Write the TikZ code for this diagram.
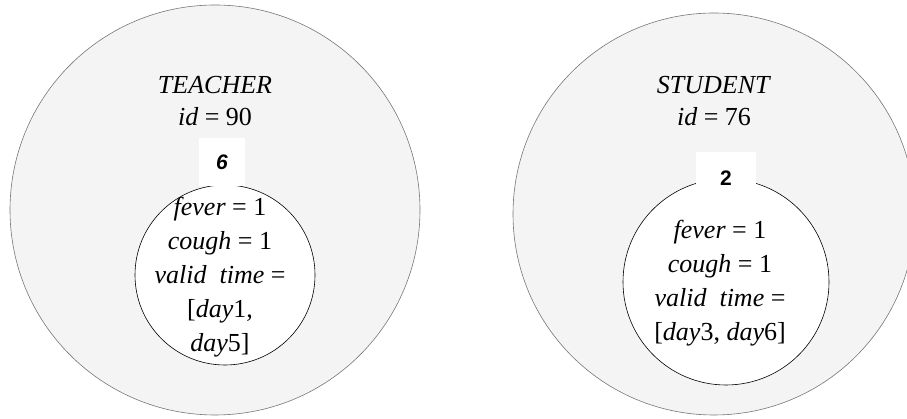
\documentclass[tikz,border=0pt]{standalone}
\usepackage{fontspec}
\setmainfont{Liberation Serif}
\newfontfamily\tagfont{Liberation Sans}
\definecolor{cellfill}{HTML}{F4F4F4}
\definecolor{cellline}{HTML}{777777}

\begin{document}
\begin{tikzpicture}[x=1pt,y=1pt,
    outer/.style={draw=cellline,fill=cellfill,line width=0.6pt},
    inner/.style={draw=black,fill=white,line width=0.6pt},
    tagbox/.style={fill=white},
    tag/.style={font=\tagfont\bfseries\fontsize{21}{24}\selectfont,inner sep=0pt},
    head/.style={font=\fontsize{26}{32}\selectfont,align=center,inner sep=0pt},
    attr/.style={font=\fontsize{26}{34}\selectfont,align=center,inner sep=0pt}]
	\useasboundingbox (0,0) rectangle (907,419); % page window
	% teacher
	\draw[outer] (215,209) circle (205);
	\draw[inner] (225,144) circle (90);
	\fill[tagbox] (199,233) rectangle (245,281);
	\node[tag] (tagsix) at (222,257) {\itshape 6};
	\node[head] (teacher) at (215,318) {\textit{TEACHER}\\ \textit{id} = 90};
	\node[attr] (teacherattr) at (220,142) {\textit{fever} = 1\\ \textit{cough} = 1\\
		\textit{valid\ \ time} =\\ {[}\textit{day}1,\\ \textit{day}5]};
	% student
	\draw[outer] (714,205) circle (201);
	\draw[inner] (726,137) circle (103);
	\fill[tagbox] (696,233) rectangle (756,267);
	\node[tag] (tagtwo) at (726,241) {2};
	\node[head] (student) at (714,318) {\textit{STUDENT}\\ \textit{id} = 76};
	\node[attr] (studentattr) at (720,136) {\textit{fever} = 1\\ \textit{cough} = 1\\
		\textit{valid\ \ time} =\\ {[}\textit{day}3, \textit{day}6]};
\end{tikzpicture}
\end{document}
